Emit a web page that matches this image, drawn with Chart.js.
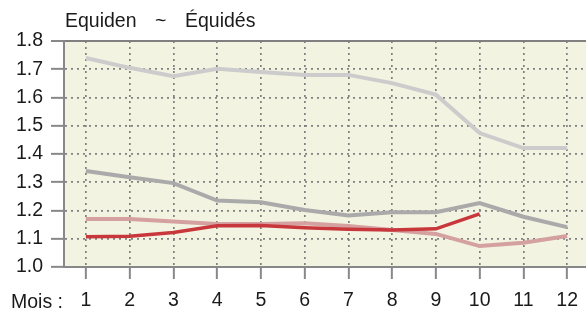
<!DOCTYPE html>
<html>
<head>
<meta charset="utf-8">
<script src="https://cdn.jsdelivr.net/npm/chart.js@4/dist/chart.umd.min.js"></script>
<style>
  html, body { margin: 0; padding: 0; background: #fff; overflow: hidden; }
  #wrap { width: 589px; height: 313px; }
</style>
</head>
<body>
<div id="wrap"><canvas id="myChart"></canvas></div>
<script>
// chart values
const months = ['1', '2', '3', '4', '5', '6', '7', '8', '9', '10', '11', '12'];
const seriesLightGray = [1.740, 1.705, 1.675, 1.702, 1.690, 1.680, 1.680, 1.651, 1.610, 1.474, 1.421, 1.421];
const seriesGray = [1.340, 1.318, 1.297, 1.235, 1.229, 1.202, 1.182, 1.194, 1.194, 1.226, 1.178, 1.141];
const seriesPink = [1.170, 1.170, 1.161, 1.152, 1.152, 1.155, 1.145, 1.131, 1.117, 1.074, 1.086, 1.110];
const seriesRed = [1.107, 1.109, 1.122, 1.146, 1.147, 1.139, 1.134, 1.131, 1.135, 1.188, null, null];
const yTicks = [1.0, 1.1, 1.2, 1.3, 1.4, 1.5, 1.6, 1.7, 1.8];

const fontFamily = '"Liberation Sans", Arial, sans-serif';
const fontSize = 19.5;

// plot background + the loose texts (title and "Mois :")
const decor = {
  id: 'decor',
  beforeDraw(chart) {
    const a = chart.chartArea;
    const ctx = chart.ctx;
    ctx.save();
    ctx.fillStyle = '#f3f3e1';
    ctx.fillRect(a.left, a.top, a.right - a.left, a.bottom - a.top);
    ctx.restore();
  },
  afterDraw(chart) {
    const ctx = chart.ctx;
    ctx.save();
    ctx.fillStyle = '#1a1a1a';
    ctx.font = fontSize + 'px ' + fontFamily;
    ctx.textBaseline = 'alphabetic';
    ctx.fillText('Equiden', 65, 27);
    ctx.fillText('~', 155, 27);
    ctx.fillText('Équidés', 185, 27);
    ctx.fillText('Mois :', 11, 308);
    ctx.restore();
  }
};

const mkLine = (label, data, color, width) => ({
  label: label,
  data: data,
  borderColor: color,
  backgroundColor: color,
  borderWidth: width,
  pointRadius: 0,
  tension: 0,
  spanGaps: false
});

const data = {
  labels: months,
  datasets: [
    mkLine('a', seriesRed, '#c8373c', 3.5),
    mkLine('b', seriesPink, '#d4a0a0', 4),
    mkLine('c', seriesGray, '#aaaaaa', 4),
    mkLine('d', seriesLightGray, '#cccccc', 4)
  ]
};

const config = {
  type: 'line',
  data: data,
  options: {
    responsive: true,
    maintainAspectRatio: false,
    animation: false,
    layout: { padding: { top: 41, right: 0, left: 0, bottom: 0 } },
    plugins: {
      legend: { display: false },
      tooltip: { enabled: false }
    },
    scales: {
      x: {
        offset: true,
        grid: {
          color: '#808080',
          lineWidth: 1.7,
          tickColor: '#888',
          tickWidth: 2,
          tickLength: 12,
          tickBorderDash: []
        },
        border: { display: true, color: '#888', width: 2, dash: [2, 4] },
        ticks: {
          color: '#1a1a1a',
          font: { size: fontSize, family: fontFamily },
          padding: 10,
          maxRotation: 0,
          autoSkip: false
        },
        afterFit(scale) { scale.height = 46; }
      },
      y: {
        min: 1.0,
        max: 1.8,
        afterBuildTicks(scale) {
          scale.ticks = yTicks.map(v => ({ value: v }));
        },
        grid: {
          color: '#808080',
          lineWidth: (ctx) => (ctx.tick && ctx.tick.value === 1.8 ? 2 : 1.7),
          tickColor: '#888',
          tickWidth: 2,
          tickLength: 13,
          tickBorderDash: []
        },
        border: {
          display: true,
          color: '#888',
          width: 2,
          dash: (ctx) => (ctx.tick && ctx.tick.value === 1.8 ? [] : [2, 4])
        },
        ticks: {
          color: '#1a1a1a',
          font: { size: fontSize, family: fontFamily },
          padding: 8,
          callback: (v) => Number(v).toFixed(1)
        },
        afterFit(scale) { scale.width = 64; }
      }
    }
  },
  plugins: [decor]
};

const myChart = new Chart(document.getElementById('myChart'), config);
</script>
</body>
</html>
